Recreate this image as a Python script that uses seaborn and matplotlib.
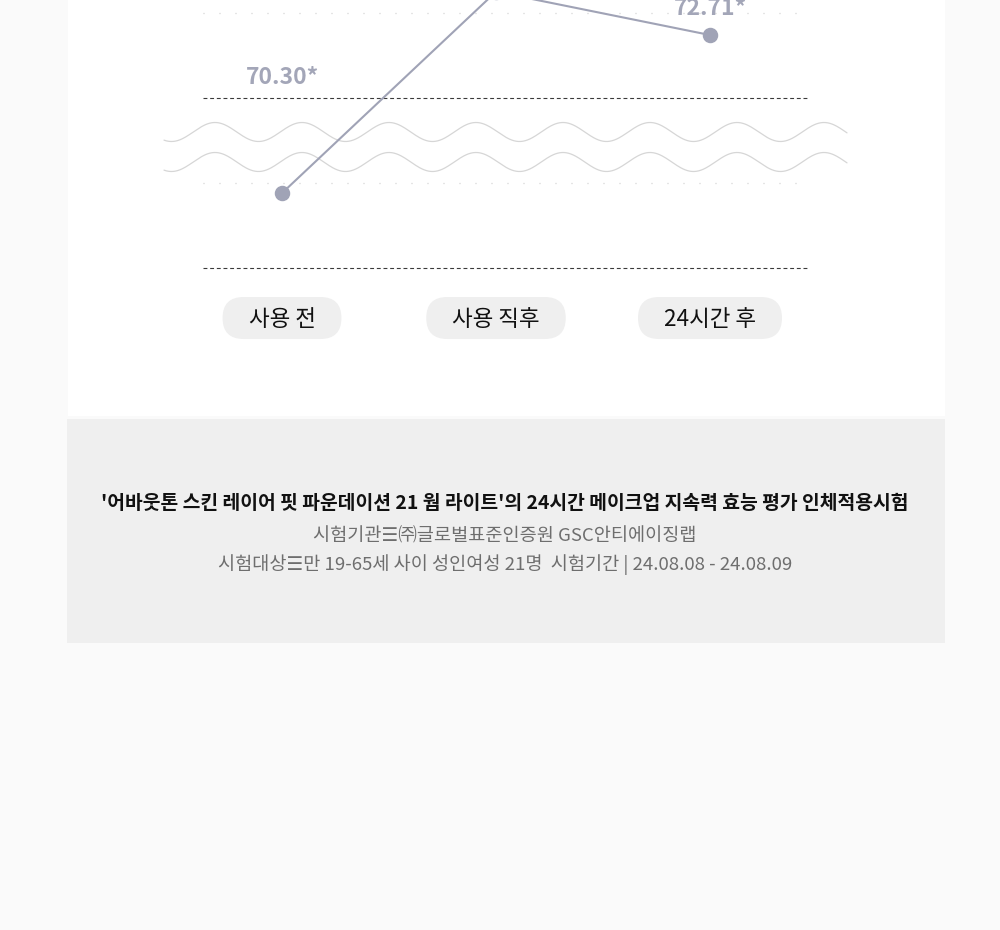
import numpy as np
import matplotlib.pyplot as plt
from matplotlib.patches import FancyBboxPatch, Rectangle
import seaborn as sns
import pandas as pd

# data
stages = ['사용 전', '사용 직후', '24시간 후']
scores = [70.30, 73.37, 72.71]   # middle value is outside the cropped view, estimated
shown = [True, False, True]      # labels visible in the crop
title = "'어바웃톤 스킨 레이어 핏 파운데이션 21 웜 라이트'의 24시간 메이크업 지속력 효능 평가 인체적용시험"
info = ['시험기관☰㈜글로벌표준인증원 GSC안티에이징랩',
        '시험대상☰만 19-65세 사이 성인여성 21명  시험기간 | 24.08.08 - 24.08.09']

sns.set_theme(style='white')
plt.rcParams['font.family'] = ['Noto Sans CJK KR', 'DejaVu Sans']

W, H = 1000, 930
fig = plt.figure(figsize=(W/100, H/100), dpi=100, facecolor='#fafafa')

# background layer in pixel coords
bg = fig.add_axes([0, 0, 1, 1], zorder=0)
bg.set_xlim(0, W); bg.set_ylim(H, 0); bg.axis('off')
bg.add_patch(Rectangle((68, -5), 877, 421, fc='white', ec='none'))
bg.add_patch(Rectangle((67, 419), 878, 224, fc='#efefef', ec='none'))

# grid lines
for yy in (98, 268):
    bg.plot([203, 808], [yy, yy], color='#3a3a3a', lw=0.8, dashes=(3.5, 2.5))
for yy in (13, 183):
    bg.plot([203, 808], [yy, yy], color='#cccccc', lw=0.9, dashes=(0.8, 12))

# decorative wave (axis break)
xw = np.linspace(164, 847, 600)
for c in (132, 162):
    bg.plot(xw, c - 9.5*np.cos(2*np.pi*(xw-215)/87), color='#d6d6d6', lw=0.9)

# chart layer
ax = fig.add_axes([0.16, 1-290/H, 0.69, 290/H], zorder=2)
ax.patch.set_alpha(0)
df = pd.DataFrame({'stage': stages, 'score': scores})
sns.pointplot(data=df, x='stage', y='score', color='#a0a3b6',
              markersize=10, linewidth=1.5, ax=ax)
ax.set_xlim(-0.5701, 2.6542)
ax.set_ylim(68.823, 73.244)
ax.axis('off')

offs = [116, 100, 27]
for i, v in enumerate(scores):
    if not shown[i]:
        continue
    ax.annotate(f'{v:.2f}*', (i, v), xytext=(0, offs[i]), textcoords='offset pixels',
                ha='center', va='center', fontsize=16.5, color='#a3a6b8',
                fontweight='bold', annotation_clip=False)

# category pills
fig.canvas.draw()
r = fig.canvas.get_renderer()
for i, s in enumerate(stages):
    px = ax.transData.transform((i, 0))[0]
    t = bg.text(px, 319, s, ha='center', va='center', fontsize=16.2, color='#111111', zorder=3)
    w = t.get_window_extent(r).width + 52
    bg.add_patch(FancyBboxPatch((px - w/2 + 21, 297 + 21), w - 42, 0.01,
                                boxstyle='round,pad=21', fc='#efefef', ec='none', zorder=2))

bg.text(505, 503, title, ha='center', va='center', fontsize=13.9,
        fontweight='bold', color='#111111')
bg.text(505, 537, info[0], ha='center', va='center', fontsize=13.4, color='#6e6e6e')
bg.text(505, 565, info[1], ha='center', va='center', fontsize=13.4, color='#6e6e6e')

fig.savefig('out.png', dpi=100, facecolor=fig.get_facecolor())
